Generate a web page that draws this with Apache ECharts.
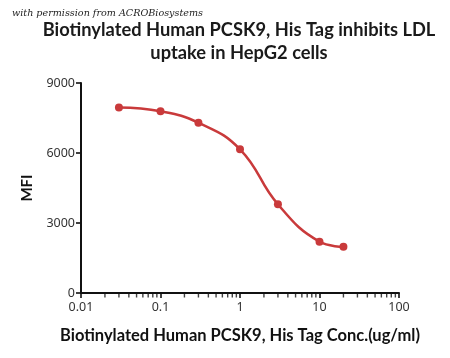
<!DOCTYPE html>
<html><head><meta charset="utf-8">
<script src="https://cdn.jsdelivr.net/npm/echarts@6/dist/echarts.min.js"></script>
<style>html,body{margin:0;padding:0;background:#fff}#c{width:450px;height:358px}</style>
</head><body><div id="c"></div>
<script>
const conc = [0.03, 0.1, 0.3, 1, 3, 10, 20];
const mfi = [7950, 7790, 7300, 6160, 3800, 2200, 1980];
const yTicks = [0, 3000, 6000, 9000];
const xMajor = [0.01, 0.1, 1, 10, 100];
const xMinor = [0.02,0.03,0.04,0.05,0.06,0.07,0.08,0.09,0.2,0.3,0.4,0.5,0.6,0.7,0.8,0.9,2,3,4,5,6,7,8,9,20,30,40,50,60,70,80,90];

const chart = echarts.init(document.getElementById('c'));
const lineColor = '#c93a3b';
chart.setOption({
  animation: false,
  graphic: [
    {type:'text', x: 12, y: 8, style:{text:'with permission from ACROBiosystems', font:'italic 9.6px "DejaVu Serif", serif', fill:'#222'}},
    {type:'text', x: 239, y: 19, style:{text:'Biotinylated Human PCSK9, His Tag inhibits LDL\nuptake in HepG2 cells', font:'bold 18.3px Lato, sans-serif', fill:'#1a1a1a', align:'center', lineHeight: 23}}
  ],
  grid: {left: 81, right: 51, top: 83, bottom: 65},
  xAxis: {
    type: 'log', min: 0.01, max: 100, logBase: 10,
    name: 'Biotinylated Human PCSK9, His Tag Conc.(ug/ml)', nameLocation: 'middle', nameGap: 34,
    nameTextStyle: {fontFamily: 'Lato', fontWeight: 'bold', fontSize: 16.5, color: '#111'},
    axisLine: {lineStyle: {color: '#111', width: 2}},
    axisTick: {show: true, length: 5, lineStyle: {color:'#111', width: 1.6}, customValues: xMajor},
    axisLabel: {fontFamily: 'Noto Sans', fontSize: 12.5, color: '#333', margin: 8, customValues: xMajor,
      formatter: v => String(v)},
    splitLine: {show: false}
  },
  yAxis: {
    type: 'value', min: 0, max: 9000, interval: 3000,
    name: 'MFI', nameLocation: 'middle', nameGap: 46,
    nameTextStyle: {fontFamily: 'Lato', fontWeight: 'bold', fontSize: 15, color: '#111'},
    axisLine: {show: true, lineStyle: {color: '#111', width: 2}},
    axisTick: {show: true, length: 5, lineStyle: {color:'#111', width: 1.6}},
    axisLabel: {fontFamily: 'Noto Sans', fontSize: 12.5, color: '#333', margin: 6, formatter: v => String(v)},
    splitLine: {show: false}
  },
  series: [{
    type: 'scatter', silent: true, clip: false, z: 10,
    data: xMinor.map(v => [v, 0]),
    symbol: 'rect', symbolSize: [1.4, 4], symbolOffset: [0, 2.5],
    itemStyle: {color: '#111'},
    emphasis: {disabled: true}
  },{
    type: 'line',
    data: conc.map((c, i) => [c, mfi[i]]),
    smooth: 0.45,
    symbol: 'circle', symbolSize: 8,
    lineStyle: {color: lineColor, width: 2.5},
    itemStyle: {color: lineColor}
  }]
});
</script></body></html>
